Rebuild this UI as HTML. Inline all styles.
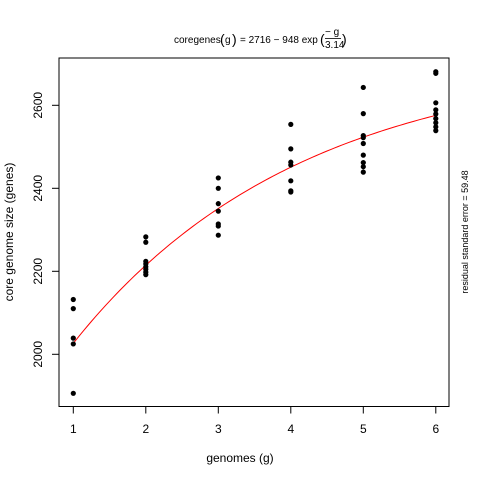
<!DOCTYPE html>
<html><head><meta charset="utf-8"><style>
body{margin:0;background:#fff}
svg text{font-family:"Liberation Sans",sans-serif;fill:#000}
</style></head><body>
<svg id="c" width="480" height="480" viewBox="0 0 480 480">
<rect width="480" height="480" fill="#fff"/>
<g>
<text x="174" y="43" font-size="10">coregenes</text>
<text x="220" y="44" font-size="14">(</text>
<text x="225" y="43" font-size="10">g</text>
<text x="232" y="44" font-size="14">)</text>
<text x="240" y="43" font-size="10">= 2716 − 948 exp</text>
<text x="320" y="44" font-size="14">(</text>
<text x="325" y="35" font-size="10">− g</text>
<line x1="325" y1="38.5" x2="341" y2="38.5" stroke="#000" stroke-width="0.8"/>
<text x="325" y="48" font-size="10">3.14</text>
<text x="342" y="44" font-size="14">)</text>
</g>
<rect x="59" y="58" width="390" height="348.5" fill="none" stroke="#000" stroke-width="1"/>
<g id="axes"></g>
<g id="marks"></g>
<text x="240" y="462" font-size="12" text-anchor="middle">genomes (g)</text>
<text transform="translate(13,232) rotate(-90)" font-size="12" text-anchor="middle">core genome size (genes)</text>
<text transform="translate(468,232) rotate(-90)" font-size="9" text-anchor="middle">residual standard error = 59.48</text>
</svg>
<script>
const genomes=[1,2,3,4,5,6];
const pts1=[2132,2110,2039,2025,1906];
const pts2=[2283,2270,2224,2218,2211,2205,2198,2192];
const pts3=[2425,2400,2363,2345,2314,2309,2287];
const pts4=[2554,2495,2463,2456,2418,2394,2391];
const pts5=[2643,2580,2527,2522,2508,2480,2462,2452,2439];
const pts6=[2681,2677,2606,2589,2579,2568,2558,2548,2539];
const xTicks=[1,2,3,4,5,6];
const yTicks=[2000,2200,2400,2600];
const fitA=2716, fitB=948, fitC=3.14;

const NS="http://www.w3.org/2000/svg";
const X=v=>73.3+(v-1)*72.5;
const Y=v=>354.3-(v-2000)*0.415;
function mk(t,a,p){const e=document.createElementNS(NS,t);for(const k in a)e.setAttribute(k,a[k]);p.appendChild(e);return e;}
const axes=document.getElementById('axes'), marks=document.getElementById('marks');
xTicks.forEach(t=>{
  const l=mk('line',{x1:X(t),x2:X(t),y1:406.5,y2:413.5,stroke:'#000'},axes);
  
  
  const tx=mk('text',{x:X(t),y:433,'font-size':12,'text-anchor':'middle'},axes);tx.textContent=t;
  
  
});
yTicks.forEach(t=>{
  const l=mk('line',{x1:52,x2:59,y1:Y(t),y2:Y(t),stroke:'#000'},axes);
  
  
  const tx=mk('text',{transform:`translate(42,${Y(t)}) rotate(-90)`,'font-size':12,'text-anchor':'middle'},axes);tx.textContent=t;
  
  
});
let d='';
for(let i=0;i<=100;i++){const g=1+5*i/100;const v=fitA-fitB*Math.exp(-g/fitC);d+=(i?'L':'M')+X(g).toFixed(2)+' '+Y(v).toFixed(2);}
const fit=mk('path',{d:d,fill:'none',stroke:'#ff0000','stroke-width':1},marks);


[pts1,pts2,pts3,pts4,pts5,pts6].forEach((arr,i)=>{
  arr.forEach(v=>{
    const c=mk('circle',{cx:X(genomes[i]),cy:Y(v),r:2.6,fill:'#000'},marks);
    
    
  });
});
</script>
</body></html>
